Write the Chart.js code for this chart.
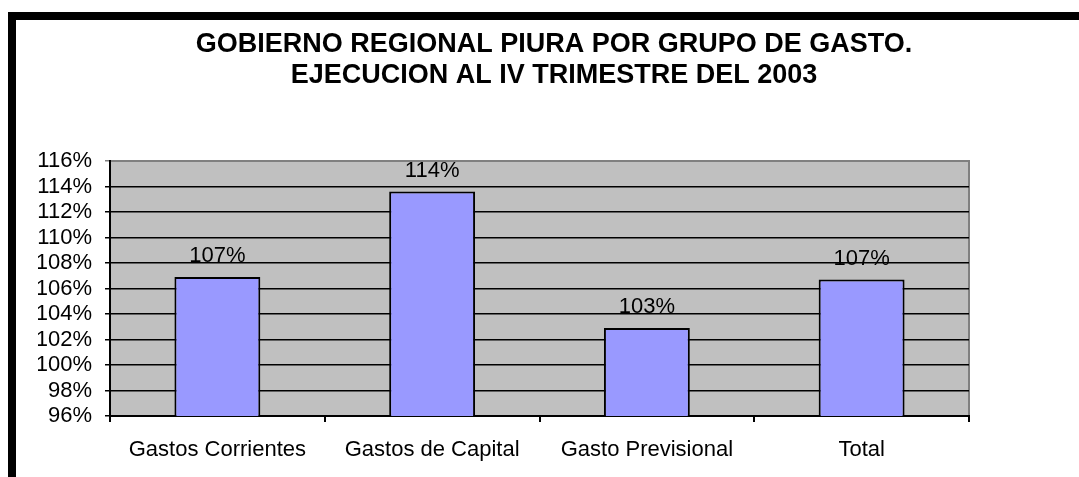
<!DOCTYPE html>
<html>
<head>
<meta charset="utf-8">
<script src="https://cdn.jsdelivr.net/npm/chart.js@4.4.1/dist/chart.umd.min.js"></script>
<style>
    body { margin: 0; background: #fff; }
    #marco { position: absolute; left: 8px; top: 12px; right: 0; bottom: 0; border-top: 8px solid #000; border-left: 8px solid #000; }
    #grafico { position: absolute; left: 0; top: 0; }
</style>
</head>
<body>
<div id="marco"></div>
<canvas id="grafico" width="1079" height="477"></canvas>
<script>
/** DATA **/
const categorias = ['Gastos Corrientes', 'Gastos de Capital', 'Gasto Previsional', 'Total']
const ejecucion = [106.9, 113.6, 102.9, 106.7]
const titulo = ['GOBIERNO REGIONAL PIURA POR GRUPO DE GASTO.', 'EJECUCION AL IV TRIMESTRE DEL 2003']
const y_min = 96
const y_max = 116
const y_paso = 2

const fuente = '"Liberation Sans", Arial, sans-serif'

/** Fondo gris del area del grafico **/
const fondo = {
    id: 'fondo',
    beforeDraw(chart) {
        const a = chart.chartArea
        const ctx = chart.ctx
        ctx.save()
        ctx.fillStyle = '#c0c0c0'
        ctx.fillRect(a.left, a.top, a.right - a.left, a.bottom - a.top)
        ctx.strokeStyle = '#808080'
        ctx.lineWidth = 2
        ctx.beginPath()
        ctx.moveTo(a.left, a.top)
        ctx.lineTo(a.right, a.top)
        ctx.lineTo(a.right, a.bottom)
        ctx.stroke()
        ctx.restore()
    }
}

/** Titulo centrado como en el original **/
const tituloPlugin = {
    id: 'tituloPlugin',
    afterDraw(chart) {
        const ctx = chart.ctx
        ctx.save()
        ctx.font = 'bold 27px ' + fuente
        ctx.fillStyle = '#000'
        ctx.textAlign = 'center'
        ctx.textBaseline = 'alphabetic'
        ctx.fillText(titulo[0], 554, 52)
        ctx.fillText(titulo[1], 554, 83)
        ctx.restore()
    }
}

/** Etiquetas de valor encima de cada barra **/
const etiquetas = {
    id: 'etiquetas',
    afterDatasetsDraw(chart) {
        const ctx = chart.ctx
        const meta = chart.getDatasetMeta(0)
        ctx.save()
        ctx.font = '22px ' + fuente
        ctx.fillStyle = '#000'
        ctx.textAlign = 'center'
        ctx.textBaseline = 'alphabetic'
        meta.data.forEach(function (bar, i) {
            ctx.fillText(Math.round(ejecucion[i]) + '%', bar.x, bar.y - 15)
        })
        ctx.restore()
    }
}

var grafico = new Chart(
    document.getElementById('grafico').getContext('2d'),
    config = {
        type: 'bar',
        data: {
            labels: categorias,
            datasets: [{
                data: ejecucion,
                backgroundColor: '#9999ff',
                borderColor: '#000',
                borderWidth: 2,
                categoryPercentage: 1,
                barPercentage: 0.4,
            }]
        },
        options: {
            responsive: false,
            animation: false,
            layout: {
                padding: { top: 161, left: 38, right: 110, bottom: 0 }
            },
            plugins: {
                legend: { display: false },
                title: { display: false },
                tooltip: { enabled: false },
            },
            scales: {
                x: {
                    afterFit: function (scale) { scale.height = 61 },
                    grid: {
                        display: true,
                        drawOnChartArea: false,
                        color: '#000',
                        lineWidth: 2,
                        tickLength: 6,
                    },
                    border: { display: true, color: '#000', width: 2 },
                    ticks: {
                        color: '#000',
                        padding: 15,
                        font: { family: fuente, size: 22 },
                    },
                },
                y: {
                    min: y_min,
                    max: y_max,
                    afterFit: function (scale) { scale.width = 72 },
                    grid: {
                        color: function (c) { return c.tick && c.tick.value === y_max ? '#808080' : '#000' },
                        lineWidth: 1.5,
                        tickLength: 5,
                    },
                    border: { display: true, color: '#000', width: 2 },
                    ticks: {
                        stepSize: y_paso,
                        autoSkip: false,
                        color: '#000',
                        padding: 13,
                        font: { family: fuente, size: 22 },
                        callback: function (v) { return v + '%' },
                    },
                }
            },
        },
        plugins: [fondo, tituloPlugin, etiquetas]
    }
);
</script>
</body>
</html>
